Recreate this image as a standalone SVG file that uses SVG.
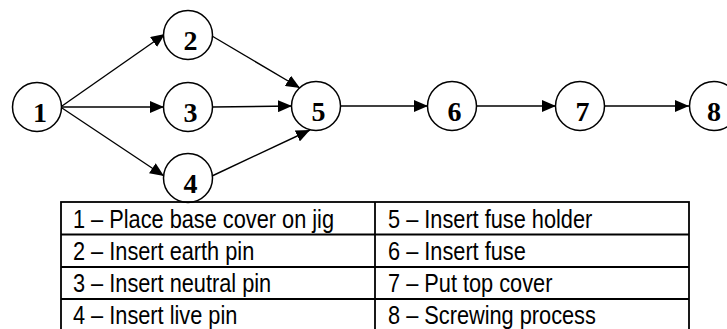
<svg xmlns="http://www.w3.org/2000/svg" width="727" height="329" viewBox="0 0 727 329">
<style>
.node circle{fill:#fff;stroke:#000;stroke-width:1.5}
.node text{font-family:"Liberation Serif","Times New Roman",serif;font-weight:bold;font-size:28px;text-anchor:middle;fill:#000}
.edge{stroke:#000;stroke-width:1.4;fill:none;marker-end:url(#arr)}
.grid{stroke:#000;stroke-width:1.8;fill:none}
.cell{font-family:"Liberation Sans",Arial,sans-serif;font-size:25px;fill:#000}
</style>
<defs>
<marker id="arr" markerUnits="userSpaceOnUse" markerWidth="14" markerHeight="12" refX="14" refY="6" orient="auto">
<path d="M0,0 L14,6 L0,12 z" fill="#000"/>
</marker>
</defs>
<g id="connectors">
<line class="edge" x1="62" y1="106" x2="165" y2="34"/>
<line class="edge" x1="62" y1="107" x2="164" y2="107"/>
<line class="edge" x1="62" y1="108" x2="164" y2="176"/>
<line class="edge" x1="212" y1="36" x2="300" y2="88"/>
<line class="edge" x1="212" y1="107" x2="292" y2="106"/>
<line class="edge" x1="212" y1="176" x2="310" y2="130"/>
<line class="edge" x1="341" y1="106" x2="428" y2="106"/>
<line class="edge" x1="477" y1="106" x2="556" y2="106"/>
<line class="edge" x1="605" y1="106" x2="689" y2="106"/>
</g>
<g id="n1" class="node"><circle cx="37" cy="107" r="24.5"/><text x="40" y="122">1</text></g>
<g id="n2" class="node"><circle cx="188" cy="35" r="24.5"/><text x="190.5" y="50">2</text></g>
<g id="n3" class="node"><circle cx="188" cy="107" r="24.5"/><text x="190.5" y="122">3</text></g>
<g id="n4" class="node"><circle cx="188" cy="178" r="24.5"/><text x="190.5" y="193">4</text></g>
<g id="n5" class="node"><circle cx="316" cy="106" r="24.5"/><text x="318.5" y="121">5</text></g>
<g id="n6" class="node"><circle cx="452" cy="106" r="24.5"/><text x="454.5" y="121">6</text></g>
<g id="n7" class="node"><circle cx="580" cy="106" r="24.5"/><text x="582.5" y="121">7</text></g>
<g id="n8" class="node"><circle cx="714" cy="106" r="24.5"/><text x="714" y="121">8</text></g>
<g id="legend">
<rect class="grid" x="61" y="202" width="628" height="132"/>
<line class="grid" x1="375" y1="202" x2="375" y2="334"/>
<line class="grid" x1="61" y1="234.5" x2="689" y2="234.5"/>
<line class="grid" x1="61" y1="267" x2="689" y2="267"/>
<line class="grid" x1="61" y1="299" x2="689" y2="299"/>
<g transform="scale(0.87 1)" class="cell">
<text x="83.9" y="228">1 – Place base cover on jig</text>
<text x="83.9" y="260">2 – Insert earth pin</text>
<text x="83.9" y="292">3 – Insert neutral pin</text>
<text x="83.9" y="324">4 – Insert live pin</text>
<text x="446" y="228">5 – Insert fuse holder</text>
<text x="446" y="260">6 – Insert fuse</text>
<text x="446" y="292">7 – Put top cover</text>
<text x="446" y="324">8 – Screwing process</text>
</g>
</g>
</svg>
